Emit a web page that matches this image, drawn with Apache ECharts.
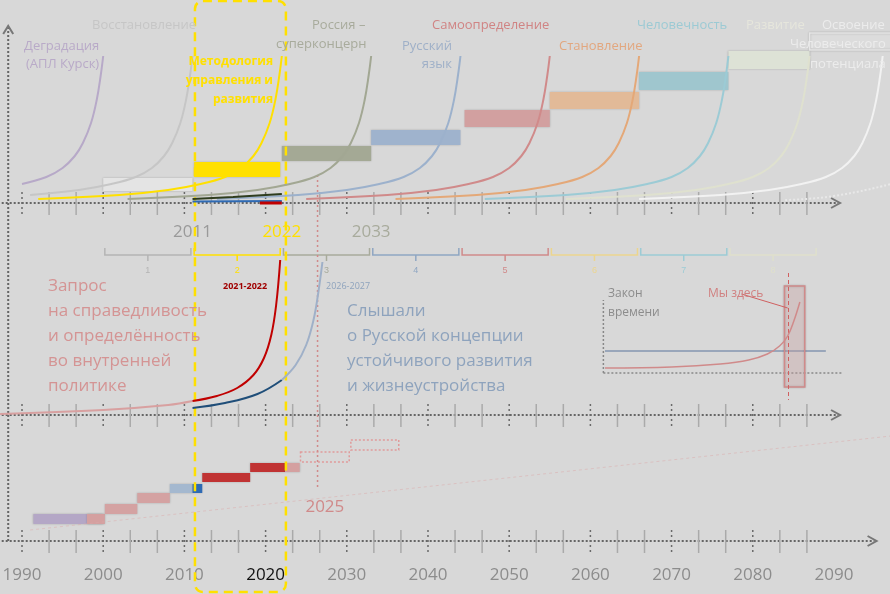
<!DOCTYPE html>
<html><head><meta charset="utf-8">
<script src="https://cdn.jsdelivr.net/npm/echarts@6/dist/echarts.min.js"></script>
<style>html,body{margin:0;background:#d8d8d8}#c{width:890px;height:594px}</style>
</head><body><div id="c"></div>
<script>
const chart = echarts.init(document.getElementById('c'));

// years on the bottom axis
const yearLabels = [1990, 2000, 2010, 2020, 2030, 2040, 2050, 2060, 2070, 2080, 2090];
// top panel: end year of each growth curve and its colour
const stageEnds = [2000, 2011, 2022, 2033, 2044, 2055, 2066, 2077, 2087, 2096];
const stageColors = ['#b7a9c8', '#c6c6c6', '#ffe000', '#a2a793', '#9cb1cc', '#d08a8a', '#e4a878', '#9ccbd5', '#dfe1cf', '#f2f2f2'];
// shape of a curve: years before end -> level (screen units, 203 = baseline)
const curveOffsets = [-30, -20, -14, -10, -7, -5, -3.5, -2.5, -1.5, -0.8, -0.3, 0];
const curveLevels = [199, 195, 190, 184, 177, 168, 156, 143, 123, 100, 75, 56];
// top stage bars [start, end, top, bottom, colour]
const stageBars = [
  [2000, 2011, 178, 191, '#e4e4e4'], [2011.2, 2021.8, 162, 177, '#ffe000'],
  [2022, 2033, 146, 161, '#a4a995'], [2033, 2044, 130, 145, '#9fb3cd'],
  [2044.5, 2055, 110, 127, '#d2a0a0'], [2055, 2066, 92, 109, '#e2ba98'],
  [2066, 2077, 72, 90, '#9fc6ce'], [2077, 2087, 51, 69, '#dde2d6'],
  [2087, 2098, 33, 50, '#dcdcdc']
];
const bracketColors = ['#b4b4b4', '#ffe000', '#a8ab9c', '#8fa6c2', '#d08a8a', '#ecd58e', '#9ccbd5', '#dfe0cc'];
// middle panel curves [year, level]
const redCurve = [[1987.3, 414], [2000, 410], [2008, 405], [2011, 401], [2014, 396], [2016.5, 388], [2018.5, 375], [2019.8, 358], [2020.7, 335], [2021.3, 305], [2021.8, 260]];
const blueCurve = [[2011, 408], [2015, 403], [2019, 394], [2022, 380], [2023.7, 365], [2025, 345], [2025.9, 320], [2026.5, 292], [2027, 262]];
// bottom steps [start, end, top, bottom, colour]
const steps = [
  [1991.4, 2000, 514, 524, '#b4a7c6'], [1998, 2000.2, 514, 524, '#d4a0a0'],
  [2000.2, 2004.2, 504, 514, '#d4a2a2'], [2004.2, 2008.2, 493, 503, '#d4a2a2'],
  [2008.2, 2011, 484, 493, '#a4b8cf'], [2011, 2012.2, 484, 493, '#2e6ab4'],
  [2012.2, 2018.1, 473, 482, '#c03333'], [2018.1, 2022.4, 463, 472, '#c03333'],
  [2022.4, 2024.2, 463, 472, '#d4a0a0']
];
const futureSteps = [[2024.3, 2030.3, 452, 462], [2030.5, 2036.4, 440, 450]];

function curve(end) {
  return curveOffsets.map((o, i) => [end + o, curveLevels[i]]).filter(p => p[0] > 1987);
}

const series = [];
stageEnds.forEach((e, i) => series.push({
  type: 'line', smooth: 0.4, symbol: 'none', silent: true,
  lineStyle: { color: stageColors[i], width: 2 }, data: curve(e), z: 2
}));
series.push({ type: 'line', smooth: true, symbol: 'none', lineStyle: { color: '#e8e8e8', width: 2, type: 'dotted' },
  data: [[2084, 200], [2090, 196], [2097, 184]] });
series.push({ type: 'line', smooth: true, symbol: 'none', lineStyle: { color: '#2f3d1e', width: 2 },
  data: [[2011, 199], [2016, 197], [2022, 194]] });
series.push({ type: 'line', symbol: 'none', lineStyle: { color: '#2e6ab4', width: 2 }, data: [[2011, 201.5], [2022, 201]] });
series.push({ type: 'line', symbol: 'none', lineStyle: { color: '#c00000', width: 3 }, data: [[2019.3, 203], [2022, 203]] });
series.push({ type: 'line', smooth: 0.4, symbol: 'none', lineStyle: { color: '#d8a0a0', width: 2 }, data: redCurve.slice(0, 4) });
series.push({ type: 'line', smooth: 0.4, symbol: 'none', lineStyle: { color: '#c00000', width: 2 }, data: redCurve.slice(3) });
series.push({ type: 'line', smooth: 0.4, symbol: 'none', lineStyle: { color: '#1f4e79', width: 2 }, data: blueCurve.slice(0, 4) });
series.push({ type: 'line', smooth: 0.4, symbol: 'none', lineStyle: { color: '#9fb0c8', width: 2 }, data: blueCurve.slice(3) });

series.push({
  type: 'custom', silent: true, z: 1, data: [0],
  renderItem(params, api) {
    const P = (x, y) => api.coord([x, y]);
    const ch = [];
    const line = (a, b, stroke, w, dash) => ch.push({ type: 'line', shape: { x1: a[0], y1: a[1], x2: b[0], y2: b[1] }, style: { stroke, lineWidth: w || 1, lineDash: dash } });
    const rect = (x0, x1, t, b, fill, stroke, dash) => {
      const p = P(x0, t), q = P(x1, b);
      ch.push({ type: 'rect', shape: { x: p[0], y: p[1], width: q[0] - p[0], height: q[1] - p[1] },
        style: { fill: fill || 'none', stroke: stroke, lineWidth: stroke ? 1.5 : 0, lineDash: dash, shadowBlur: fill ? 2 : 0, shadowColor: 'rgba(0,0,0,0.2)' } });
    };
    const arrow = (x, y) => ch.push({ type: 'polyline', shape: { points: [[x - 9, y - 5], [x, y], [x - 9, y + 5]] }, style: { stroke: '#777', lineWidth: 2, fill: 'none' } });
    // axes with ticks
    [[203, 2090.5], [415, 2090.5], [541, 2095]].forEach(([yv, endYear]) => {
      line(P(1987.5, yv), P(endYear, yv), '#666', 2, [2, 2]);
      arrow(P(endYear, yv)[0] + 2, P(0, yv)[1]);
      for (let k = 0; k < 30; k++) {
        const yr = 1990 + k * 10 / 3;
        if (yr > 2087.5 + (yv === 541 ? 3 : 0)) break;
        const decade = k % 3 === 0;
        line(P(yr, yv - 11), P(yr, yv + 12), decade ? '#6a6a6a' : '#aaa', decade ? 1.5 : 1.5, decade ? [2, 3] : null);
      }
    });
    line(P(1988.3, 541), P(1988.3, 28), '#666', 2, [2, 2]);
    const top = P(1988.3, 26);
    ch.push({ type: 'polyline', shape: { points: [[top[0] - 5, top[1] + 8], top, [top[0] + 5, top[1] + 8]] }, style: { stroke: '#777', lineWidth: 2, fill: 'none' } });
    // stage bars
    stageBars.forEach(b => rect(b[0], b[1], b[2], b[3], b[4], b === stageBars[8] ? '#e6e6e6' : null));
    // brackets 1..8
    for (let i = 0; i < 8; i++) {
      const a = 2000 + i * 11, b = a + 11, c = bracketColors[i];
      const l = P(a + 0.2, 248), r = P(b - 0.2, 255), m = P(a + 5.5, 261);
      ch.push({ type: 'polyline', shape: { points: [l, [l[0], r[1]], [r[0], r[1]], [r[0], l[1]]] }, style: { stroke: c, lineWidth: 1.5, fill: 'none' } });
      line([m[0], r[1]], m, c, 1.5);
      ch.push({ type: 'text', x: m[0], y: m[1] + 10, style: { text: String(i + 1), fill: c, fontSize: 9, align: 'center', verticalAlign: 'middle' } });
    }
    // bottom steps
    steps.forEach(s => rect(s[0], s[1], s[2], s[3], s[4]));
    futureSteps.forEach(s => rect(s[0], s[1], s[2], s[3], null, '#e09a9a', [2, 2]));
    line(P(1991, 530), P(2097, 436), 'rgba(220,170,170,0.5)', 1, [3, 3]);
    line(P(2026.4, 175), P(2026.4, 488), '#d08a8a', 1.5, [2, 3]);
    // inset
    line(P(2061.6, 373), P(2091, 373), '#888', 1.5, [2, 2]);
    line(P(2061.6, 373), P(2061.6, 300), '#888', 1.5, [2, 2]);
    line(P(2061.8, 351), P(2089, 351), '#8596b0', 1.5);
    rect(2083.9, 2086.4, 286, 387, 'rgba(225,180,180,0.3)', '#d08a8a');
    line(P(2084.4, 273), P(2084.4, 400), '#d06060', 1, [4, 3]);
    line(P(2078.6, 294), P(2084.3, 308), '#d06060', 1);
    // year labels
    yearLabels.forEach(y => {
      const p = P(y, 575);
      ch.push({ type: 'text', x: p[0], y: p[1], style: { text: String(y), fill: y === 2020 ? '#111' : '#8c8c8c', font: '17px "Open Sans"', align: 'center', verticalAlign: 'middle' } });
    });
    [[2011, 232, '2011', '#9a9a9a'], [2022, 232, '2022', '#ffe000'], [2033, 232, '2033', '#a8ab9c'], [2027.3, 507, '2025', '#d08a8a']].forEach(t => {
      const p = P(t[0], t[1]);
      ch.push({ type: 'text', x: p[0], y: p[1], style: { text: t[2], fill: t[3], font: '17px "Open Sans"', align: 'center', verticalAlign: 'middle' } });
    });
    // yellow frame
    const f0 = P(2011.3, 1), f1 = P(2022.5, 592);
    ch.push({ type: 'rect', shape: { x: f0[0], y: f0[1], width: f1[0] - f0[0], height: f1[1] - f0[1], r: 8 }, style: { fill: 'none', stroke: '#ffe000', lineWidth: 2.5, lineDash: [9, 6] }, z2: 50 });
    return { type: 'group', children: ch };
  }
});

// inset curve
series.push({ type: 'line', smooth: 0.4, symbol: 'none', lineStyle: { color: '#d08a8a', width: 1.5 },
  data: [[2061.8, 368], [2070, 367], [2076, 364], [2079.5, 360], [2081.8, 354], [2083.3, 346], [2084.3, 336], [2085.1, 320], [2085.8, 302]] });

const T = (text, x, y, fill, size, extra) => ({ type: 'text', x, y, z: 100,
  style: Object.assign({ text, fill, font: (size || 13) + 'px "Open Sans"', textVerticalAlign: 'middle' }, extra || {}) });
const graphic = [
  T('Деградация', 24, 46, '#b9aac8'), T('(АПЛ Курск)', 26, 64, '#b9aac8'),
  T('Восстановление', 92, 25, '#c6c6c6'),
  T('Методология\nуправления и\nразвития', 273, 81, '#ffe000', 12, { textAlign: 'right', font: 'bold 12px "Open Sans"', lineHeight: 19, textVerticalAlign: 'middle' }),
  T('Россия –', 312, 25, '#a8ab9c'), T('суперконцерн', 276, 44, '#a8ab9c'),
  T('Русский', 452, 46, '#9fb0c8', 13, { textAlign: 'right' }), T('язык', 452, 64, '#9fb0c8', 13, { textAlign: 'right' }),
  T('Самоопределение', 432, 25, '#d08484'), T('Становление', 559, 46, '#e2a77f'),
  T('Человечность', 637, 25, '#9ccad4'), T('Развитие', 746, 25, '#e6e6dc'),
  T('Освоение', 822, 25, '#ececec'), T('Человеческого', 790, 44, '#ececec'), T('потенциала', 810, 64, '#ececec'),
  T('Запрос\nна справедливость\nи определённость\nво внутренней\nполитике', 48, 336, '#d49494', 17, { lineHeight: 25 }),
  T('Слышали\nо Русской концепции\nустойчивого развития\nи жизнеустройства', 347, 349, '#8ea3bd', 17, { lineHeight: 25 }),
  T('2021-2022', 223, 286, '#a00000', 9, { font: 'bold 9px "Open Sans"' }),
  T('2026-2027', 326, 286, '#8ea3bd', 9),
  T('Закон\nвремени', 608, 303, '#8c8c8c', 12, { lineHeight: 19 }),
  T('Мы здесь', 708, 294, '#d08080', 12)
];

chart.setOption({
  backgroundColor: '#d8d8d8',
  animation: false,
  grid: { left: 0, right: 0, top: 0, bottom: 0 },
  xAxis: { type: 'value', min: 1987.29, max: 2096.9, show: false },
  yAxis: { type: 'value', min: 0, max: 594, inverse: true, show: false },
  graphic,
  series
});
</script></body></html>
